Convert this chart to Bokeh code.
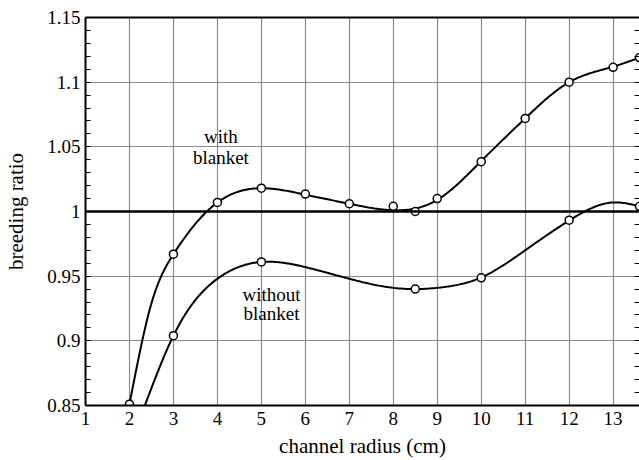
import numpy as np
from bokeh.plotting import figure
from bokeh.models import Range1d, FixedTicker, LinearAxis, Span, CustomJSTickFormatter, ColumnDataSource
from bokeh.core.properties import value
from bokeh.embed import file_html
from bokeh.resources import INLINE

# ---- data ----
x_ticks = [1, 2, 3, 4, 5, 6, 7, 8, 9, 10, 11, 12, 13]
y_ticks = [0.85, 0.9, 0.95, 1.0, 1.05, 1.1, 1.15]
y_minor = [round(0.85 + 0.01 * i, 2) for i in range(31)]

# measured points (circles)
with_x = [2, 3, 4, 5, 6, 7, 8, 8.5, 9, 10, 11, 12, 13, 13.6]
with_y = [0.851, 0.967, 1.007, 1.018, 1.0135, 1.006, 1.004, 1.000, 1.010, 1.0385, 1.072, 1.100, 1.1115, 1.119]
without_x = [3, 5, 8.5, 10, 12, 13.6]
without_y = [0.904, 0.961, 0.940, 0.9487, 0.9933, 1.004]

# fitted curves
with_curve_x = [2, 2.5, 3, 4, 5, 6, 7, 8, 9, 10, 11, 12, 13, 13.6]
with_curve_y = [0.851, 0.929, 0.967, 1.007, 1.018, 1.013, 1.006, 1.001, 1.009, 1.039, 1.072, 1.100, 1.112, 1.119]
without_curve_x = [2.35, 3, 4, 5, 6, 7, 8, 8.5, 9, 10, 11, 12, 13, 13.6]
without_curve_y = [0.85, 0.904, 0.948, 0.961, 0.957, 0.948, 0.941, 0.940, 0.941, 0.949, 0.970, 0.993, 1.007, 1.004]

labels_text = ["with", "blanket", "without", "blanket"]
labels_x = [4.08, 4.08, 5.23, 5.23]
labels_y = [1.058, 1.042, 0.936, 0.921]

FONT = "Liberation Serif"


def natural_spline(xs, ys, n=400):
    x = np.asarray(xs, float)
    y = np.asarray(ys, float)
    k = len(x)
    h = np.diff(x)
    A = np.zeros((k, k))
    b = np.zeros(k)
    A[0, 0] = 1
    A[-1, -1] = 1
    for i in range(1, k - 1):
        A[i, i - 1] = h[i - 1]
        A[i, i] = 2 * (h[i - 1] + h[i])
        A[i, i + 1] = h[i]
        b[i] = 6 * ((y[i + 1] - y[i]) / h[i] - (y[i] - y[i - 1]) / h[i - 1])
    M = np.linalg.solve(A, b)
    xx = np.linspace(x[0], x[-1], n)
    idx = np.clip(np.searchsorted(x, xx) - 1, 0, k - 2)
    x0 = x[idx]
    x1 = x[idx + 1]
    hh = x1 - x0
    t0 = x1 - xx
    t1 = xx - x0
    yy = (M[idx] * t0 ** 3 / (6 * hh) + M[idx + 1] * t1 ** 3 / (6 * hh)
          + (y[idx] / hh - M[idx] * hh / 6) * t0 + (y[idx + 1] / hh - M[idx + 1] * hh / 6) * t1)
    return xx, yy


p = figure(width=639, height=460,
           x_range=Range1d(1, 13.6), y_range=Range1d(0.85, 1.15),
           output_backend="svg", toolbar_location=None,
           min_border_left=85, min_border_right=0, min_border_top=17, min_border_bottom=54,
           x_axis_label="channel radius (cm)", y_axis_label="breeding ratio")
p.outline_line_color = None
p.background_fill_color = "white"

fmt = CustomJSTickFormatter(code="return String(Number(tick.toFixed(2)));")

for ax in (p.xaxis[0], p.yaxis[0]):
    ax.axis_line_width = 2
    ax.axis_line_color = "black"
    ax.major_tick_out = 0
    ax.major_tick_in = 0
    ax.minor_tick_out = 0
    ax.major_label_text_font = FONT
    ax.major_label_text_font_size = "19px"
    ax.major_label_text_color = "black"
    ax.axis_label_text_font = FONT
    ax.axis_label_text_font_size = "21px"
    ax.axis_label_text_font_style = "normal"
    ax.axis_label_text_color = "black"

p.xaxis.ticker = FixedTicker(ticks=x_ticks, minor_ticks=[])
p.xaxis.minor_tick_in = 0
p.xaxis.major_label_standoff = 6
p.xaxis.axis_label_standoff = 6
p.xaxis.axis_label_text_line_height = 0.8

p.yaxis.ticker = FixedTicker(ticks=y_ticks, minor_ticks=y_minor)
p.yaxis.formatter = fmt
p.yaxis.minor_tick_in = 5
p.yaxis.minor_tick_line_color = "black"
p.yaxis.major_label_standoff = 5
p.yaxis.axis_label_standoff = 16

right = LinearAxis(ticker=FixedTicker(ticks=[], minor_ticks=y_minor),
                   axis_line_color=None, major_tick_in=0, major_tick_out=0,
                   minor_tick_in=5, minor_tick_out=0, minor_tick_line_color="black",
                   major_label_standoff=0)
p.add_layout(right, "right")

top = LinearAxis(ticker=FixedTicker(ticks=[], minor_ticks=[]), axis_line_width=2, axis_line_color="black",
                 major_tick_in=0, major_tick_out=0, minor_tick_in=0, minor_tick_out=0,
                 major_label_standoff=0)
p.add_layout(top, "above")

p.xgrid.grid_line_color = "#8a8a8a"
p.ygrid.grid_line_color = "#8a8a8a"
p.xgrid.grid_line_width = 1.2
p.ygrid.grid_line_width = 1.2

p.add_layout(Span(location=1.0, dimension="width", line_color="black", line_width=2.5))

wx, wy = natural_spline(with_curve_x, with_curve_y)
nx, ny = natural_spline(without_curve_x, without_curve_y)
p.line(wx, wy, line_color="black", line_width=2)
p.line(nx, ny, line_color="black", line_width=2)

p.scatter(with_x, with_y, size=8, marker="circle", fill_color="white", line_color="black", line_width=1.5)
p.scatter(without_x, without_y, size=8, marker="circle", fill_color="white", line_color="black", line_width=1.5)

src = ColumnDataSource(dict(x=labels_x, y=labels_y, t=labels_text))
p.text(x="x", y="y", text="t", source=src, text_font=value(FONT), text_font_size="19px",
       text_align="center", text_baseline="middle", text_color="black")

open("out.html", "w").write(file_html(p, INLINE))
